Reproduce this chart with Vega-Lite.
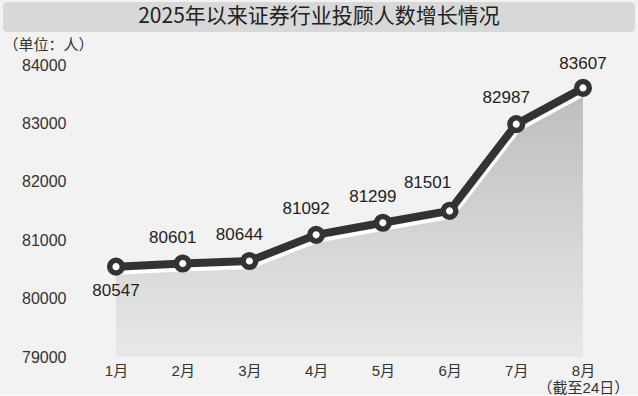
{
  "$schema": "https://vega.github.io/schema/vega-lite/v6.json",
  "background": "#f2f2f2",
  "padding": {"left": 3, "top": 2, "right": 3, "bottom": 0},
  "spacing": 5,
  "config": {
    "font": "Liberation Sans, Noto Sans CJK SC",
    "view": {"stroke": null}
  },
  "datasets": {
    "main": [
      {"month": "1月", "m": 1, "value": 80547},
      {"month": "2月", "m": 2, "value": 80601},
      {"month": "3月", "m": 3, "value": 80644},
      {"month": "4月", "m": 4, "value": 81092},
      {"month": "5月", "m": 5, "value": 81299},
      {"month": "6月", "m": 6, "value": 81501},
      {"month": "7月", "m": 7, "value": 82987},
      {"month": "8月", "m": 8, "value": 83607}
    ],
    "grid": [
      {"g": 80000}, {"g": 81000}, {"g": 82000}, {"g": 83000}, {"g": 84000}
    ]
  },
  "vconcat": [
    {
      "width": 632,
      "height": 30,
      "view": {"fill": "#d8d8d8", "stroke": null, "cornerRadius": 4},
      "data": {"values": [{"t": "2025年以来证券行业投顾人数增长情况"}]},
      "mark": {"type": "text", "fontSize": 21, "font": "Noto Sans CJK SC", "color": "#222222", "baseline": "middle", "align": "center"},
      "encoding": {"text": {"field": "t"}}
    },
    {
      "width": 632,
      "height": 292,
      "data": {"name": "main"},
      "encoding": {
        "x": {
          "field": "m", "type": "quantitative",
          "scale": {"domain": [-0.694, 8.78], "nice": false, "zero": false},
          "axis": {
            "title": null, "values": [1, 2, 3, 4, 5, 6, 7, 8],
            "grid": false, "domain": false, "ticks": false,
            "labelFlush": false, "labelOverlap": false,
            "labelFontSize": 15, "labelColor": "#333333", "labelPadding": 6,
            "labelLineHeight": 17,
            "labelExpr": "datum.value == 8 ? ['8月', '（截至24日）'] : datum.value + '月'"
          }
        },
        "y": {
          "field": "value", "type": "quantitative",
          "scale": {"domain": [79000, 84000], "zero": false, "nice": false},
          "axis": {
            "values": [79000, 80000, 81000, 82000, 83000, 84000],
            "format": "d", "ticks": false, "domain": false, "grid": false,
            "offset": -79,
            "labelFontSize": 16, "labelColor": "#333333", "labelPadding": 16,
            "title": "（单位：人）", "titleAngle": 0, "titleAlign": "left",
            "titleBaseline": "middle", "titleX": -79, "titleY": -21,
            "titleFontSize": 15, "titleFontWeight": "normal", "titleColor": "#333333",
            "titleFont": "Noto Sans CJK SC"
          }
        }
      },
      "layer": [
        {
          "data": {"name": "grid"},
          "mark": {"type": "rule", "color": "#bbbbbb", "strokeWidth": 1, "strokeDash": [2, 2]},
          "encoding": {
            "x": {"datum": 0.49},
            "x2": {"datum": 8.45},
            "y": {"field": "g", "type": "quantitative"}
          }
        },
        {
          "mark": {
            "type": "area",
            "color": {"gradient": "linear", "x1": 0, "y1": 0, "x2": 0, "y2": 1,
              "stops": [{"offset": 0, "color": "#bdbdbd"}, {"offset": 1, "color": "#e8e8e8"}]}
          },
          "encoding": {"y2": {"datum": 79000}}
        },
        {
          "data": {"values": [{"b": 79000}]},
          "mark": {"type": "rule", "color": "#888888", "strokeWidth": 2},
          "encoding": {
            "x": {"datum": 0.49},
            "x2": {"datum": 8.45},
            "y": {"field": "b", "type": "quantitative"}
          }
        },
        {
          "mark": {"type": "line", "color": "#ffffff", "strokeWidth": 12, "yOffset": 2}
        },
        {
          "mark": {"type": "line", "color": "#333333", "strokeWidth": 8}
        },
        {
          "mark": {"type": "point", "filled": true, "fill": "#ffffff", "stroke": "#333333", "strokeWidth": 5.5, "size": 160, "opacity": 1, "shape": "circle"}
        },
        {
          "transform": [{"filter": "datum.m >= 2 && datum.m <= 7 && datum.m != 6"}],
          "mark": {"type": "text", "fontSize": 17, "color": "#222222", "baseline": "middle", "dy": -26, "dx": -10},
          "encoding": {"text": {"field": "value", "type": "quantitative", "format": "d"}}
        },
        {
          "transform": [{"filter": "datum.m == 6"}],
          "mark": {"type": "text", "fontSize": 17, "color": "#222222", "baseline": "middle", "dy": -28, "dx": -22},
          "encoding": {"text": {"field": "value", "type": "quantitative", "format": "d"}}
        },
        {
          "transform": [{"filter": "datum.m == 8"}],
          "mark": {"type": "text", "fontSize": 17, "color": "#222222", "baseline": "middle", "dy": -24},
          "encoding": {"text": {"field": "value", "type": "quantitative", "format": "d"}}
        },
        {
          "transform": [{"filter": "datum.m == 1"}],
          "mark": {"type": "text", "fontSize": 17, "color": "#222222", "baseline": "middle", "dy": 24},
          "encoding": {"text": {"field": "value", "type": "quantitative", "format": "d"}}
        }
      ]
    }
  ]
}
